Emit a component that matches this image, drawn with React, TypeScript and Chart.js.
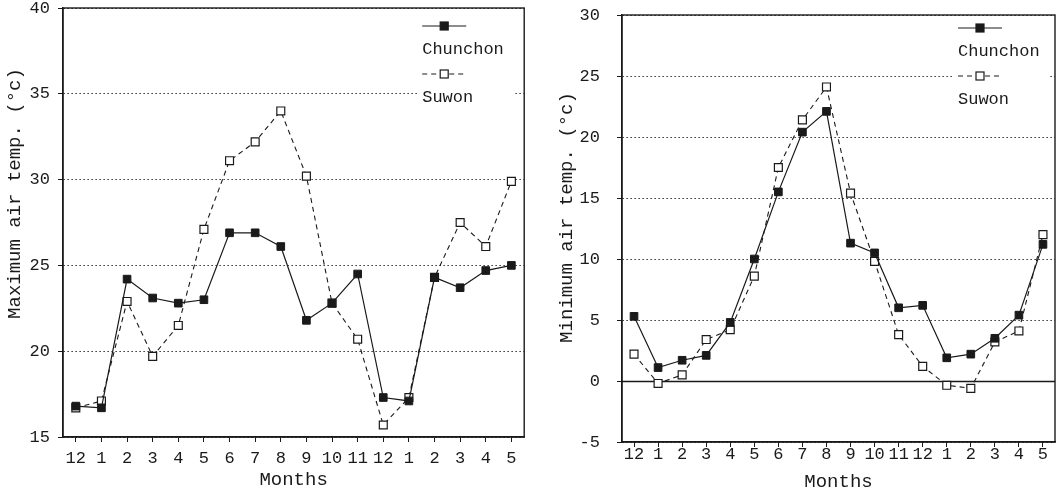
import React, { useEffect, useRef } from "react";
import { Chart, registerables } from "chart.js";

Chart.register(...registerables);

// ---- data ----
const months = ["12", "1", "2", "3", "4", "5", "6", "7", "8", "9", "10", "11", "12", "1", "2", "3", "4", "5"];
const seriesNames = ["Chunchon", "Suwon"];
const maxChunchon = [16.8, 16.7, 24.2, 23.1, 22.8, 23.0, 26.9, 26.9, 26.1, 21.8, 22.8, 24.5, 17.3, 17.1, 24.3, 23.7, 24.7, 25.0];
const maxSuwon = [16.7, 17.1, 22.9, 19.7, 21.5, 27.1, 31.1, 32.2, 34.0, 30.2, 22.8, 20.7, 15.7, 17.3, 24.3, 27.5, 26.1, 29.9];
const minChunchon = [5.3, 1.1, 1.7, 2.1, 4.8, 10.0, 15.5, 20.4, 22.1, 11.3, 10.5, 6.0, 6.2, 1.9, 2.2, 3.5, 5.4, 11.2];
const minSuwon = [2.2, -0.2, 0.5, 3.4, 4.2, 8.6, 17.5, 21.4, 24.1, 15.4, 9.8, 3.8, 1.2, -0.35, -0.6, 3.2, 4.1, 12.0];
const maxTicks = { min: 15, max: 40, step: 5 };
const minTicks = { min: -5, max: 30, step: 5 };
const maxTitle = "Maximum air temp. (°c)";
const minTitle = "Minimum air temp. (°c)";
const xTitle = "Months";

const FONT = "'Liberation Mono', 'DejaVu Sans Mono', monospace";
const INK = "#1a1a1a";

const framePlugin = {
  id: "frame",
  beforeDatasetsDraw(chart: any, _args: any, opts: any) {
    const { ctx, chartArea: a, scales } = chart;
    ctx.save();
    ctx.strokeStyle = INK;
    ctx.setLineDash([]);
    if (opts.zeroLine) {
      const py = Math.round(scales.y.getPixelForValue(0)) + 0.5;
      ctx.lineWidth = 1.3;
      ctx.beginPath();
      ctx.moveTo(a.left, py);
      ctx.lineTo(a.right, py);
      ctx.stroke();
    }
    ctx.lineWidth = 1.4;
    ctx.strokeRect(a.left, a.top, a.right - a.left, a.bottom - a.top);
    // y-axis title
    ctx.save();
    ctx.translate(opts.titleX, (a.top + a.bottom) / 2 - opts.titleShift);
    ctx.rotate(-Math.PI / 2);
    ctx.fillStyle = INK;
    ctx.font = `19px ${FONT}`;
    ctx.textAlign = "center";
    ctx.textBaseline = "middle";
    ctx.fillText(opts.yTitle, 0, 0);
    ctx.restore();
    ctx.restore();
  },
  afterDraw(chart: any, _args: any, opts: any) {
    const { ctx, chartArea: a } = chart;
    const x0 = a.right - opts.legendRight;
    const y0 = a.top + opts.legendTop;
    ctx.save();
    ctx.fillStyle = "#fff";
    ctx.fillRect(x0 - 4, a.top + 2, opts.bgW, opts.bgH);
    chart.data.datasets.forEach((ds: any, i: number) => {
      const ly = y0 + i * 48;
      ctx.strokeStyle = INK;
      ctx.lineWidth = ds.borderWidth;
      ctx.setLineDash(ds.borderDash || []);
      ctx.beginPath();
      ctx.moveTo(x0, ly);
      ctx.lineTo(x0 + opts.lineW, ly);
      ctx.stroke();
      ctx.setLineDash([]);
      const cx = x0 + opts.lineW / 2;
      const s = 8;
      ctx.fillStyle = ds.pointBackgroundColor;
      ctx.fillRect(cx - s / 2, ly - s / 2, s, s);
      ctx.lineWidth = 1.2;
      ctx.strokeRect(cx - s / 2, ly - s / 2, s, s);
      ctx.fillStyle = INK;
      ctx.font = `17px ${FONT}`;
      ctx.textAlign = "left";
      ctx.textBaseline = "middle";
      ctx.fillText(ds.label, x0, ly + 23);
    });
    ctx.restore();
  },
};

type Props = {
  left: number;
  width: number;
  chunchon: number[];
  suwon: number[];
  ticks: { min: number; max: number; step: number };
  yTitle: string;
  titleX: number;
  titleShift: number;
  yWidth: number;
  xHeight: number;
  padTop: number;
  padRight: number;
  yLabelPad: number;
  xLabelPad: number;
  xTitlePad: number;
  zeroLine: boolean;
  legendRight: number;
  legendTop: number;
  bgW: number;
  tickSize: number;
};

function TempChart(p: Props) {
  const ref = useRef<HTMLCanvasElement>(null);
  useEffect(() => {
    const chart = new Chart(ref.current as HTMLCanvasElement, {
      type: "line",
      data: {
        labels: months,
        datasets: [
          {
            label: seriesNames[0],
            data: p.chunchon,
            borderColor: INK,
            borderWidth: 1.2,
            pointStyle: "rect",
            pointRadius: 5.4,
            pointBackgroundColor: INK,
            pointBorderColor: INK,
            pointBorderWidth: 1,
            tension: 0,
          } as any,
          {
            label: seriesNames[1],
            data: p.suwon,
            borderColor: INK,
            borderWidth: 1.1,
            borderDash: [5, 4],
            pointStyle: "rect",
            pointRadius: 5.6,
            pointBackgroundColor: "#fff",
            pointBorderColor: INK,
            pointBorderWidth: 1.2,
            tension: 0,
          } as any,
        ],
      },
      options: {
        responsive: false,
        animation: false,
        layout: { padding: { top: p.padTop, right: p.padRight, left: 0, bottom: 0 } },
        plugins: {
          legend: { display: false },
          tooltip: { enabled: false },
          frame: {
            zeroLine: p.zeroLine,
            legendRight: p.legendRight,
            legendTop: p.legendTop,
            bgW: p.bgW,
            bgH: 98,
            lineW: 44,
            yTitle: p.yTitle,
            titleX: p.titleX,
            titleShift: p.titleShift,
          },
        } as any,
        scales: {
          x: {
            type: "category",
            offset: true,
            grid: {
              display: true,
              drawOnChartArea: false,
              drawTicks: true,
              tickLength: 5,
              color: INK,
              offset: false,
            },
            border: { display: true, color: INK, width: 1.4 },
            ticks: {
              autoSkip: false,
              maxRotation: 0,
              padding: p.xLabelPad,
              color: INK,
              font: { family: FONT, size: p.tickSize },
            },
            title: {
              display: true,
              text: xTitle,
              color: INK,
              font: { family: FONT, size: 19 },
              padding: { top: 0, bottom: p.xTitlePad },
            },
            afterFit: (s: any) => {
              s.height = p.xHeight;
              s.paddingLeft = 0;
              s.paddingRight = 0;
            },
          } as any,
          y: {
            min: p.ticks.min,
            max: p.ticks.max,
            grid: {
              display: true,
              drawOnChartArea: true,
              drawTicks: true,
              tickLength: 5,
              color: "#333",
              tickColor: INK,
              lineWidth: 1,
            },
            border: { display: true, color: INK, width: 1.4, dash: [1.5, 2.5] },
            ticks: {
              stepSize: p.ticks.step,
              padding: p.yLabelPad,
              color: INK,
              font: { family: FONT, size: p.tickSize },
            },
            title: { display: false },
            afterFit: (s: any) => {
              s.width = p.yWidth;
              s.paddingTop = 0;
              s.paddingBottom = 0;
            },
          } as any,
        },
      },
      plugins: [framePlugin as any],
    });
    return () => chart.destroy();
  }, []);
  return (
    <div style={{ position: "absolute", left: p.left, top: 0, width: p.width, height: 496 }}>
      <canvas ref={ref} width={p.width} height={496} style={{ display: "block" }} />
    </div>
  );
}

export default function App() {
  return (
    <div
      style={{
        position: "fixed",
        left: 0,
        top: 0,
        width: 1063,
        height: 496,
        background: "#fff",
        overflow: "hidden",
      }}
    >
      <TempChart
        left={0}
        width={531}
        chunchon={maxChunchon}
        suwon={maxSuwon}
        ticks={maxTicks}
        yTitle={maxTitle}
        titleX={15}
        titleShift={29}
        yWidth={63}
        xHeight={59}
        padTop={8}
        padRight={1}
        yLabelPad={8}
        xLabelPad={6}
        xTitlePad={5}
        zeroLine={false}
        legendRight={102}
        legendTop={18}
        bgW={95}
        tickSize={17}
      />
      <TempChart
        left={531}
        width={532}
        chunchon={minChunchon}
        suwon={minSuwon}
        ticks={minTicks}
        yTitle={minTitle}
        titleX={36}
        titleShift={11}
        yWidth={91}
        xHeight={54}
        padTop={15}
        padRight={8}
        yLabelPad={17}
        xLabelPad={-3}
        xTitlePad={3}
        zeroLine={true}
        legendRight={97}
        legendTop={13}
        bgW={96}
        tickSize={17}
      />
    </div>
  );
}
